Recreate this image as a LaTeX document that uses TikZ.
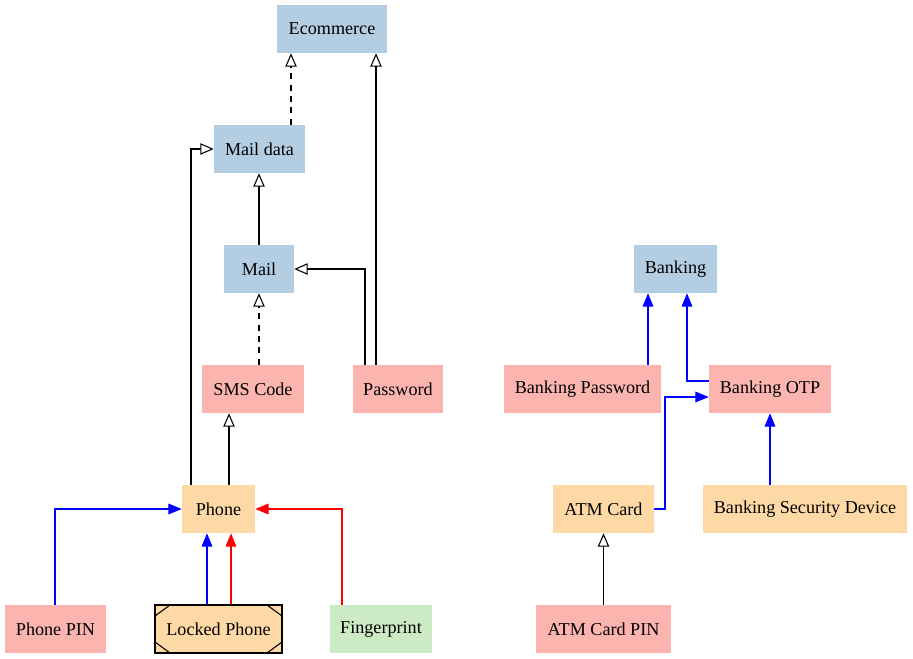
\documentclass[tikz,border=0pt]{standalone}
\usepackage{fontspec}
\setmainfont{Liberation Serif}
\usetikzlibrary{arrows.meta}
\definecolor{pblue}{HTML}{B3CDE3}
\definecolor{ppink}{HTML}{FBB4AE}
\definecolor{porange}{HTML}{FED9A6}
\definecolor{pgreen}{HTML}{CCEBC5}
\definecolor{edgeblue}{HTML}{0000FF}
\definecolor{edgered}{HTML}{FF0000}
\tikzset{
  box/.style={rectangle, inner sep=0pt, font=\rmfamily\fontsize{13.6}{16}\selectfont},
  bluebox/.style={box, fill=pblue},
  pinkbox/.style={box, fill=ppink},
  orangebox/.style={box, fill=porange},
  greenbox/.style={box, fill=pgreen},
  oarrow/.style={line width=0.8pt, -{Triangle[open, length=10pt, width=8.5pt, fill=white]}},
  farrow/.style={line width=0.85pt, -{Triangle[length=10pt, width=8pt]}},
  dashline/.style={dash pattern=on 4.5pt off 4pt},
}
\begin{document}
\begin{tikzpicture}[x=0.75pt,y=-0.75pt]
\useasboundingbox (0,0) rectangle (913,659);
% nodes
\node[bluebox, minimum width=82.5pt, minimum height=36pt] (ecom) at (332,29) {Ecommerce};
\node[bluebox, minimum width=68.25pt, minimum height=36pt] (maildata) at (259.5,149) {Mail data};
\node[bluebox, minimum width=52.5pt, minimum height=36pt] (mail) at (259,269) {Mail};
\node[pinkbox, minimum width=76.5pt, minimum height=36pt] (sms) at (253,389) {SMS Code};
\node[pinkbox, minimum width=67.5pt, minimum height=36pt] (pwd) at (398,389) {Password};
\node[orangebox, minimum width=54.75pt, minimum height=36pt] (phone) at (218.5,509) {Phone};
\node[pinkbox, minimum width=75.75pt, minimum height=36pt] (pin) at (55.5,629) {Phone PIN};
\node[orangebox, draw=black, line width=0.8pt, minimum width=95.25pt, minimum height=36pt,
  path picture={
    \draw[line width=0.8pt] ([xshift=11.25pt]path picture bounding box.north west) -- ([yshift=-8.25pt]path picture bounding box.north west);
    \draw[line width=0.8pt] ([xshift=-11.25pt]path picture bounding box.north east) -- ([yshift=-8.25pt]path picture bounding box.north east);
    \draw[line width=0.8pt] ([xshift=11.25pt]path picture bounding box.south west) -- ([yshift=8.25pt]path picture bounding box.south west);
    \draw[line width=0.8pt] ([xshift=-11.25pt]path picture bounding box.south east) -- ([yshift=8.25pt]path picture bounding box.south east);
  }] (locked) at (218.5,629) {Locked Phone};
\node[greenbox, minimum width=76.5pt, minimum height=36pt] (finger) at (381,629) {Fingerprint};
\node[bluebox, minimum width=62.25pt, minimum height=36pt] (bank) at (675.5,269) {Banking};
\node[pinkbox, minimum width=117.75pt, minimum height=36pt] (bpwd) at (582.5,389) {Banking Password};
\node[pinkbox, minimum width=91.5pt, minimum height=36pt] (botp) at (770,389) {Banking OTP};
\node[orangebox, minimum width=75.75pt, minimum height=36pt] (atm) at (603.5,509) {ATM Card};
\node[orangebox, minimum width=153pt, minimum height=36pt] (bsd) at (805,509) {Banking Security Device};
\node[pinkbox, minimum width=101.25pt, minimum height=36pt] (atmpin) at (603.5,629) {ATM Card PIN};
% black edges
\draw[oarrow, dashline] (maildata.north -| 291,0) -- (ecom.south -| 291,0);
\draw[oarrow] (pwd.north -| 376,0) -- (ecom.south -| 376,0);
\draw[oarrow] (pwd.north -| 365,0) -- (365,269) -- (mail.east);
\draw[oarrow] (mail.north) -- (maildata.south -| mail.north);
\draw[oarrow, dashline] (sms.north -| 259,0) -- (mail.south -| 259,0);
\draw[oarrow] (phone.north -| 229,0) -- (sms.south -| 229,0);
\draw[oarrow] (phone.north -| 191,0) -- (191,149) -- (maildata.west);
\draw[oarrow] (atmpin.north) -- (atm.south);
% coloured edges
\draw[farrow, edgeblue] (pin.north -| 55,0) -- (55,509) -- (phone.west);
\draw[farrow, edgeblue] (locked.north -| 207,0) -- (phone.south -| 207,0);
\draw[farrow, edgered] (locked.north -| 231,0) -- (phone.south -| 231,0);
\draw[farrow, edgered] (finger.north -| 342,0) -- (342,509) -- (phone.east);
\draw[farrow, edgeblue] (bpwd.north -| 648,0) -- (bank.south -| 648,0);
\draw[farrow, edgeblue] (botp.west |- 0,381) -- (687,381) -- (bank.south -| 687,0);
\draw[farrow, edgeblue] (atm.east) -- (665,509) -- (665,397) -- (botp.west |- 0,397);
\draw[farrow, edgeblue] (bsd.north -| 770,0) -- (botp.south -| 770,0);
\end{tikzpicture}
\end{document}
